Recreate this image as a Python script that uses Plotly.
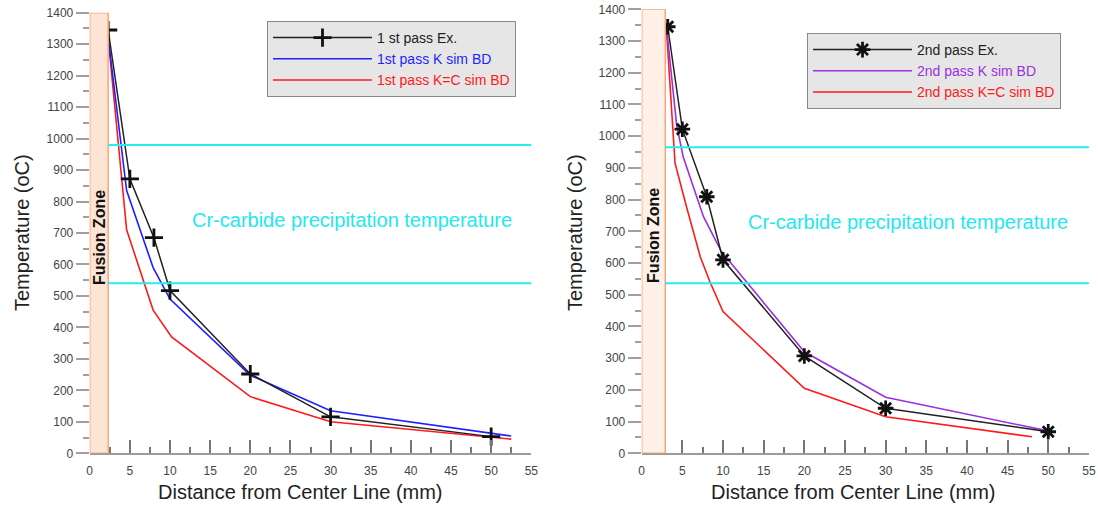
import plotly.graph_objects as go

# ---- data: peak temperature vs distance from weld centre line ----
# 1st pass
dist_1_ex = [2.3, 5, 8, 10, 20, 30, 50]
temp_1_ex = [1345, 872, 685, 517, 252, 116, 53]
dist_1_k = [2.3, 4.6, 7.9, 10, 20, 30, 52.5]
temp_1_k = [1320, 835, 590, 490, 248, 135, 55]
dist_1_kc = [2.3, 4.6, 7.9, 10.2, 20, 30, 52.5]
temp_1_kc = [1320, 710, 455, 370, 180, 100, 45]

# 2nd pass
dist_2_ex = [3.2, 5, 8, 10, 20, 30, 50]
temp_2_ex = [1345, 1022, 809, 610, 307, 142, 68]
dist_2_k = [3.0, 4.3, 5.1, 7.6, 9.8, 20, 30, 49.5]
temp_2_k = [1355, 1035, 935, 746, 636, 320, 177, 73]
dist_2_kc = [3.0, 4.1, 5.5, 7.2, 8.4, 10, 20, 30, 48]
temp_2_kc = [1355, 915, 778, 620, 540, 447, 205, 115, 52]

# Cr-carbide precipitation band (lower, upper) and fusion zone width
cr_band_1 = [540, 980]
cr_band_2 = [536, 965]
fusion_1 = 2.3
fusion_2 = 2.9

x_ticks = list(range(0, 56, 5))
y_ticks = list(range(0, 1401, 100))

FONT = "Arial, Liberation Sans, sans-serif"
W, H = 1098, 508

fig = go.Figure()


def add_pass(xa, ya, leg, ex, k, kc, k_color, ex_symbol, names):
    (dx_ex, t_ex), (dx_k, t_k), (dx_kc, t_kc) = ex, k, kc
    fig.add_trace(go.Scatter(
        x=dx_kc, y=t_kc, mode="lines", xaxis=xa, yaxis=ya, legend=leg,
        line=dict(color="#ff1a1a", width=1.6), legendrank=3,
        name=f"<span style='color:#ff1a1a'>{names[2]}</span>"))
    fig.add_trace(go.Scatter(
        x=dx_k, y=t_k, mode="lines", xaxis=xa, yaxis=ya, legend=leg,
        line=dict(color=k_color, width=1.6), legendrank=2,
        name=f"<span style='color:{k_color}'>{names[1]}</span>"))
    fig.add_trace(go.Scatter(
        x=dx_ex, y=t_ex, mode="lines+markers", xaxis=xa, yaxis=ya, legend=leg,
        line=dict(color="#222222", width=1.5), legendrank=1,
        marker=dict(symbol=ex_symbol, size=13, color="#111111",
                    line=dict(color="#111111", width=2.8)),
        name=f"<span style='color:#222222'>{names[0]}</span>"))


add_pass("x", "y", "legend",
         (dist_1_ex, temp_1_ex), (dist_1_k, temp_1_k), (dist_1_kc, temp_1_kc),
         "#1f1fff", "cross-thin",
         ["1 st pass Ex.", "1st pass K sim BD", "1st pass K=C sim BD"])
add_pass("x2", "y2", "legend2",
         (dist_2_ex, temp_2_ex), (dist_2_k, temp_2_k), (dist_2_kc, temp_2_kc),
         "#9b30e0", "asterisk",
         ["2nd pass Ex.", "2nd pass K sim BD", "2nd pass K=C sim BD"])

shapes = []
annotations = []
for xr, yr, fz, band, fill in (("x", "y", fusion_1, cr_band_1, "#fde4d4"),
                               ("x2", "y2", fusion_2, cr_band_2, "#fff0e8")):
    # fusion zone strip
    shapes.append(dict(type="rect", xref=xr, yref=yr, x0=0, x1=fz, y0=0, y1=1400,
                       fillcolor=fill, line=dict(color="#f7a775", width=1.5),
                       layer="above"))
    # Cr-carbide precipitation limits
    for level in band:
        shapes.append(dict(type="line", xref=xr, yref=yr, x0=fz, x1=55,
                           y0=level, y1=level,
                           line=dict(color="#22eef2", width=2)))
    annotations.append(dict(xref=xr, yref=yr, x=fz / 2, y=687, text="<b>Fusion Zone</b>",
                            textangle=-90, showarrow=False,
                            font=dict(family=FONT, size=16, color="#111111")))
    annotations.append(dict(xref=xr, yref=yr, x=32.7, y=sum(band) / 2 - 20,
                            text="Cr-carbide precipitation temperature",
                            showarrow=False,
                            font=dict(family=FONT, size=20, color="#22e8f0")))

# axis titles
for cx in (22, 575):
    annotations.append(dict(xref="paper", yref="paper", x=cx / W, y=1 - 233 / H,
                            text="Temperature (oC)", textangle=-90, showarrow=False,
                            xanchor="center", yanchor="middle",
                            font=dict(family=FONT, size=20, color="#222222")))
for cx in (300, 853):
    annotations.append(dict(xref="paper", yref="paper", x=cx / W, y=1 - 492 / H,
                            text="Distance from Center Line (mm)", showarrow=False,
                            xanchor="center", yanchor="middle",
                            font=dict(family=FONT, size=20, color="#222222")))


def x_axis(domain, anchor):
    return dict(domain=domain, anchor=anchor, range=[0, 55], tickvals=x_ticks,
                automargin=False,
                showgrid=False, zeroline=False, showline=True,
                linecolor="#9a9a9a", linewidth=2,
                ticks="inside", ticklen=13, tickwidth=1.5, tickcolor="#777777",
                minor=dict(ticks="inside", dtick=2.5, ticklen=6, tickwidth=1.5,
                           tickcolor="#777777"),
                ticklabelstandoff=5,
                tickfont=dict(family=FONT, size=12, color="#444444"))


def y_axis(domain, anchor):
    return dict(domain=domain, anchor=anchor, range=[0, 1400], tickvals=y_ticks,
                automargin=False,
                showgrid=False, zeroline=False, showline=False,
                ticks="outside", ticklen=13, tickwidth=2, tickcolor="#a0a0a0",
                minor=dict(ticks="outside", dtick=50, ticklen=6, tickwidth=2,
                           tickcolor="#a0a0a0"),
                tickfont=dict(family=FONT, size=12, color="#444444"))


legend_style = dict(bgcolor="#e6e6e6", bordercolor="#8a8a8a", borderwidth=1,
                    xanchor="left", yanchor="top", itemwidth=99,
                    tracegroupgap=0, traceorder="normal",
                    font=dict(family=FONT, size=14, color="#222222"))

fig.update_layout(
    width=W, height=H,
    margin=dict(l=0, r=0, t=0, b=0, autoexpand=False),
    paper_bgcolor="white", plot_bgcolor="white",
    xaxis=x_axis([89.7 / W, 531.3 / W], "y"),
    yaxis=y_axis([1 - 453.3 / H, 1 - 12.7 / H], "x"),
    xaxis2=x_axis([641.7 / W, 1088.9 / W], "y2"),
    yaxis2=y_axis([1 - 453.3 / H, 1 - 9.3 / H], "x2"),
    legend=dict(x=267 / W, y=1 - 21 / H, **legend_style),
    legend2=dict(x=807 / W, y=1 - 33 / H, **legend_style),
    shapes=shapes,
    annotations=annotations,
    showlegend=True,
)

fig.write_html("out.html")
